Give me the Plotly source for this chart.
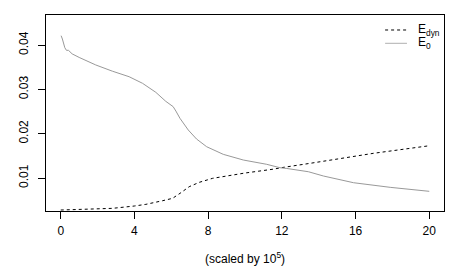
import plotly.graph_objects as go

# E_0 (solid grey)
e0_x = [0.02, 0.09, 0.22, 0.31, 0.42, 0.52, 0.62, 1.0, 1.9, 2.8, 3.71, 4.44, 4.84, 5.16,
        5.7, 6.1, 6.25, 6.47, 6.92, 7.37, 7.92, 8.82, 9.91, 11.18, 11.9, 12.27, 13.44, 14.26,
        15.89, 17.88, 20.0]
e0_y = [0.0421, 0.04135, 0.0394, 0.0388, 0.0388, 0.0384, 0.0380, 0.0372, 0.0355, 0.0341,
        0.03285, 0.03136, 0.0302, 0.02933, 0.0273, 0.0261, 0.0251, 0.02347, 0.02083, 0.0188,
        0.01706, 0.01534, 0.01406, 0.01309, 0.01232, 0.01215, 0.01142, 0.01045,
        0.00894, 0.0079, 0.0070]

# E_dyn (dashed black)
edyn_x = [0.0, 1.36, 2.81, 3.99, 4.62, 5.53, 6.07, 6.52, 6.97, 7.52, 8.24, 9.33, 9.96,
          11.54, 12.0, 13.53, 15.16, 16.97, 20.0]
edyn_y = [0.00278, 0.00293, 0.00316, 0.00368, 0.00406, 0.00488, 0.00542, 0.00668,
          0.00804, 0.00903, 0.00993, 0.01067, 0.0111, 0.0120, 0.01235, 0.01331,
          0.01444, 0.01557, 0.01728]

x_ticks = [0, 4, 8, 12, 16, 20]
y_ticks = [0.01, 0.02, 0.03, 0.04]
y_ticktext = ["0.01", "0.02", "0.03", "0.04"]

font = dict(family="Liberation Sans, Arial, sans-serif", size=12, color="black")

fig = go.Figure()
fig.add_trace(go.Scatter(x=edyn_x, y=edyn_y, mode="lines",
                         line=dict(color="black", width=1, dash="3px,3px"),
                         showlegend=False))
fig.add_trace(go.Scatter(x=e0_x, y=e0_y, mode="lines",
                         line=dict(color="#999999", width=1),
                         showlegend=False))

fig.update_layout(
    width=463, height=274,
    margin=dict(l=46, r=19, t=15, b=63),
    paper_bgcolor="white", plot_bgcolor="white",
    font=font,
    xaxis=dict(range=[-0.8, 20.8], tickvals=x_ticks, ticks="outside", ticklen=7,
               tickcolor="black", showline=True, mirror=True, linecolor="black",
               linewidth=1, showgrid=False, zeroline=False, ticklabelstandoff=2),
    yaxis=dict(range=[0.00256, 0.04677], tickvals=y_ticks, ticktext=y_ticktext,
               tickangle=-90, ticks="outside", ticklen=7, tickcolor="black",
               showline=True, mirror=True, linecolor="black", linewidth=1,
               showgrid=False, zeroline=False, ticklabelstandoff=5),
)

fig.add_annotation(x=0.5, y=-0.24, xref="paper", yref="paper",
                   text="(scaled by 10<sup>5</sup>)", showarrow=False,
                   xanchor="center", yanchor="middle", font=font)

# legend drawn manually
fig.add_shape(type="line", xref="paper", yref="paper", x0=0.852, x1=0.907,
              y0=0.9235, y1=0.9235, line=dict(color="black", width=1, dash="3px,3px"))
fig.add_shape(type="line", xref="paper", yref="paper", x0=0.852, x1=0.907,
              y0=0.8556, y1=0.8556, line=dict(color="#b0b0b0", width=1))
fig.add_annotation(x=0.929, y=0.9235, xref="paper", yref="paper", text="E<sub>dyn</sub>",
                   showarrow=False, xanchor="left", yanchor="middle", font=font)
fig.add_annotation(x=0.929, y=0.8556, xref="paper", yref="paper", text="E<sub>0</sub>",
                   showarrow=False, xanchor="left", yanchor="middle", font=font)

fig.write_html("out.html", config={"displayModeBar": False},
               post_script="document.body.style.margin='0';document.body.style.overflow='hidden';")
